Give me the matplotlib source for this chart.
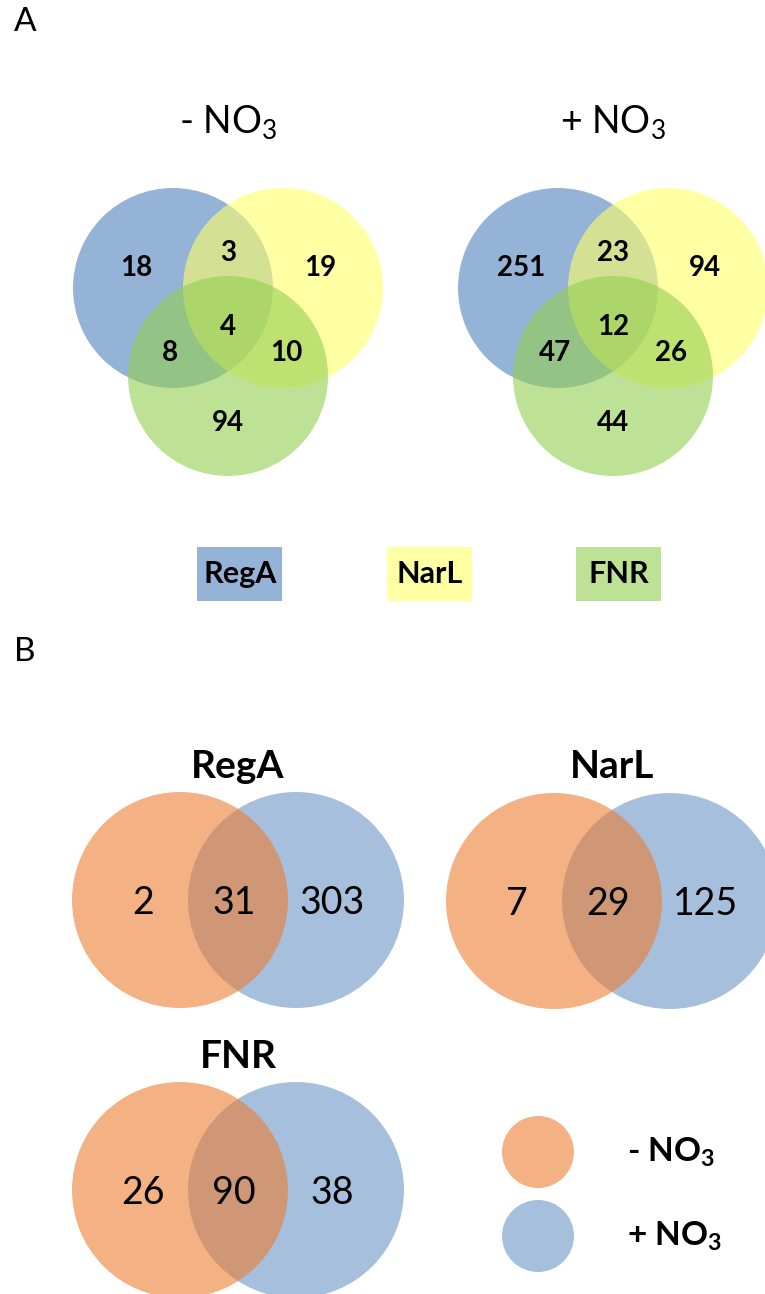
import matplotlib.pyplot as plt
from matplotlib.patches import Circle, Rectangle

plt.rcParams['font.family'] = ['Lato', 'DejaVu Sans']
plt.rcParams['mathtext.default'] = 'regular'

# Panel A: three-way overlap of target genes (RegA, NarL, FNR)
regulators = ['RegA', 'NarL', 'FNR']
conditions = ['- NO$_3$', '+ NO$_3$']
# region order: RegA only, NarL only, RegA&NarL, FNR only, RegA&FNR, NarL&FNR, all three
minus_no3 = [18, 19, 3, 94, 8, 10, 4]
plus_no3 = [251, 94, 23, 44, 47, 26, 12]

# Panel B: per-regulator overlap between conditions (-NO3 only, both, +NO3 only)
regA_counts = [2, 31, 303]
narL_counts = [7, 29, 125]
fnr_counts = [26, 90, 38]

venn3_colors = ['#4F81BD', '#FFFF66', '#92D050']
orange = '#ED7D31'
blue = '#4F81BD'

fig = plt.figure(figsize=(7.65, 12.94), dpi=100)
ax = fig.add_axes([0, 0, 1, 1])
ax.set_xlim(0, 765)
ax.set_ylim(1294, 0)
ax.axis('off')

ax.text(25, 22, 'A', fontsize=24, ha='center', va='center')
ax.text(25, 652, 'B', fontsize=24, ha='center', va='center')


def venn3(cx, cy, counts, title):
    r = 100
    centers = [(cx - 55, cy), (cx + 55, cy), (cx, cy + 88)]
    for (x, y), c in zip(centers, venn3_colors):
        ax.add_patch(Circle((x, y), r, facecolor=c, alpha=0.6, lw=0))
    offsets = [(-92, -20), (92, -20), (0, -35), (0, 135), (-58, 65), (58, 65), (0, 39)]
    for (dx, dy), n in zip(offsets, counts):
        ax.text(cx + dx, cy + dy, str(n), fontsize=20, fontweight='bold',
                ha='center', va='center')
    ax.text(cx, 122, title, fontsize=27, ha='center', va='center')


venn3(228, 288, minus_no3, conditions[0])
venn3(613, 288, plus_no3, conditions[1])

# colour key for panel A
for x, name, c in zip([240, 430, 619], regulators, venn3_colors):
    ax.add_patch(Rectangle((x - 42.5, 547), 85, 54, facecolor=c, alpha=0.6, lw=0))
    ax.text(x, 574, name, fontsize=22, fontweight='bold', ha='center', va='center')


def venn2(xo, cy, counts, title):
    r = 108
    xb = xo + 116
    ax.add_patch(Circle((xb, cy), r, facecolor=blue, alpha=0.5, lw=0))
    ax.add_patch(Circle((xo, cy), r, facecolor=orange, alpha=0.6, lw=0))
    for x, n in zip([xo - 37, (xo + xb) / 2 - 4, xb + 36], counts):
        ax.text(x, cy + 3, str(n), fontsize=27, ha='center', va='center')
    ax.text((xo + xb) / 2, cy - 134, title, fontsize=28, fontweight='bold',
            ha='center', va='center')


venn2(180, 900, regA_counts, regulators[0])
venn2(554, 901, narL_counts, regulators[1])
venn2(180, 1190, fnr_counts, regulators[2])

# condition key for panel B
ax.add_patch(Circle((538, 1152), 36, facecolor=orange, alpha=0.6, lw=0))
ax.add_patch(Circle((538, 1236), 36, facecolor=blue, alpha=0.5, lw=0))
ax.text(627, 1152, conditions[0], fontsize=24, fontweight='bold', ha='left', va='center')
ax.text(627, 1236, conditions[1], fontsize=24, fontweight='bold', ha='left', va='center')

fig.savefig('out.png', dpi=100)
